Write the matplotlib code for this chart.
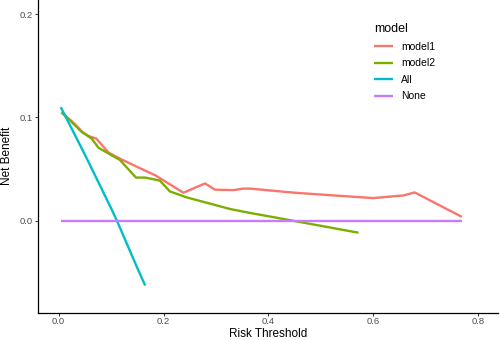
import numpy as np
import matplotlib
matplotlib.use('Agg')
import matplotlib.pyplot as plt

model1_x = [0.009, 0.030, 0.045, 0.057, 0.072, 0.095, 0.117, 0.150, 0.184, 0.238,
            0.279, 0.298, 0.333, 0.352, 0.365, 0.450, 0.600, 0.658, 0.679, 0.769]
model1_y = [0.1035, 0.094, 0.086, 0.082, 0.0795, 0.066, 0.060, 0.052, 0.044, 0.027,
            0.036, 0.030, 0.0295, 0.031, 0.031, 0.027, 0.0218, 0.0244, 0.0273, 0.0036]

model2_x = [0.005, 0.022, 0.044, 0.063, 0.076, 0.117, 0.1475, 0.165, 0.193, 0.212,
            0.244, 0.327, 0.365, 0.400, 0.572]
model2_y = [0.105, 0.097, 0.086, 0.0795, 0.0706, 0.0587, 0.0417, 0.0417, 0.0388, 0.0283,
            0.0225, 0.0112, 0.0074, 0.0042, -0.0118]

all_x = [0.004, 0.050, 0.100, 0.111, 0.150, 0.165]
all_y = [0.110, 0.064, 0.012, 0.000, -0.046, -0.063]

none_x = [0.004, 0.769]
none_y = [0.0, 0.0]

labels = ['model1', 'model2', 'All', 'None']
colors = ['#F8766D', '#7CAE00', '#00BFC4', '#C77CFF']


def main():
    plt.rcParams['font.family'] = ['Liberation Sans', 'DejaVu Sans']

    fig = plt.figure(figsize=(5, 3.4), dpi=100)
    ax = fig.add_axes([0.0754, 0.0803, 0.9206, 0.9197])

    series = [(model1_x, model1_y), (model2_x, model2_y), (all_x, all_y), (none_x, none_y)]
    for (x, y), lab, col in zip(series, labels, colors):
        ax.plot(x, y, color=col, lw=1.7, label=lab, solid_capstyle='butt')

    ax.set_xlim(-0.040, 0.838)
    ax.set_ylim(-0.0894, 0.214)
    ax.set_xticks([0.0, 0.2, 0.4, 0.6, 0.8])
    ax.set_yticks([0.0, 0.1, 0.2])
    ax.set_xticklabels(['0.0', '0.2', '0.4', '0.6', '0.8'])
    ax.set_yticklabels(['0.0', '0.1', '0.2'])

    for s in ['top', 'right']:
        ax.spines[s].set_visible(False)
    for s in ['left', 'bottom']:
        ax.spines[s].set_linewidth(0.9)
        ax.spines[s].set_color('black')
    ax.tick_params(axis='both', length=2.2, width=0.7, color='#333333',
                   labelsize=6.8, labelcolor='#4D4D4D', pad=1.2)

    ax.set_xlabel('Risk Threshold', fontsize=8.5)
    ax.xaxis.label.set_va('baseline')
    ax.xaxis.set_label_coords(0.5, -0.0777)
    ax.set_ylabel('Net Benefit', fontsize=8.5)
    ax.yaxis.label.set_va('center')
    ax.yaxis.set_label_coords(-0.0663, 0.5)

    leg = ax.legend(title='model', loc='upper left', bbox_to_anchor=(0.711, 0.955),
                    frameon=False, fontsize=7.5, title_fontsize=9,
                    handlelength=1.8, handletextpad=0.8, labelspacing=0.62)
    leg._legend_box.align = 'left'

    fig.savefig('out.png', dpi=100)


if __name__ == '__main__':
    main()
